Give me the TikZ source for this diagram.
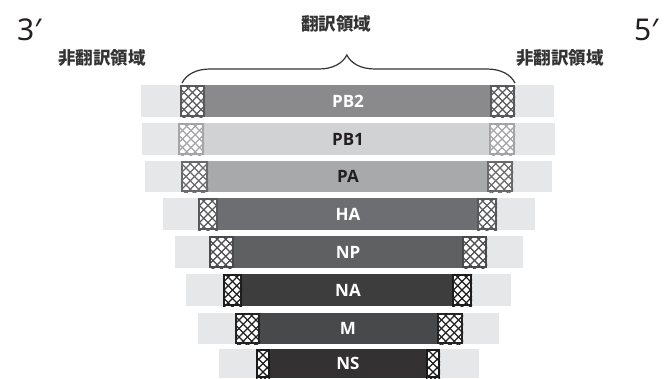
\documentclass[tikz,border=0pt]{standalone}
\usepackage{fontspec}
\setmainfont{Open Sans}
\newfontfamily\jpfont{Noto Sans CJK JP}
\newfontfamily\primefont{Noto Sans}
\usetikzlibrary{decorations.pathreplacing}
\definecolor{bglight}{HTML}{E6E7E8}
\definecolor{txtdark}{HTML}{231F20}
\definecolor{jpgray}{HTML}{333333}
\definecolor{cPBtwo}{HTML}{8A8A8C}\definecolor{hPBtwo}{HTML}{59595B}
\definecolor{cPBone}{HTML}{D1D2D4}\definecolor{hPBone}{HTML}{A5A5A7}
\definecolor{cPA}{HTML}{A7A9AB}\definecolor{hPA}{HTML}{6A6A6C}
\definecolor{cHA}{HTML}{6D6E71}\definecolor{hHA}{HTML}{58595B}
\definecolor{cNP}{HTML}{5F6062}\definecolor{hNP}{HTML}{4A4A4C}
\definecolor{cNA}{HTML}{3D3D3E}\definecolor{hNA}{HTML}{1D1D1D}
\definecolor{cM}{HTML}{48494B}\definecolor{hM}{HTML}{232323}
\definecolor{cNS}{HTML}{333132}\definecolor{hNS}{HTML}{1A1A1A}
\tikzset{
  barlabel/.style={anchor=base, inner sep=0pt, font=\fontsize{17}{18}\selectfont\bfseries},
  jplabel/.style={inner sep=0pt, text=jpgray, font=\fontsize{17.5}{19}\selectfont\jpfont\bfseries},
  endlabel/.style={anchor=base west, inner sep=0pt, text=txtdark, font=\fontsize{30}{32}\selectfont\primefont},
}
% hatch box: x1 y1 x2 y2 colour
\newcommand{\hatchbox}[5]{%
  \begin{scope}
    \clip (#1,#2) rectangle (#3,#4);
    \fill[white] (#1,#2) rectangle (#3,#4);
    \pgfmathsetmacro{\hcx}{(#1+#3)/2}
    \pgfmathsetmacro{\hcy}{(#2+#4)/2}
    \foreach \n in {-6,...,6}{
      \draw[#5, line width=1.3pt] (\hcx+8.5*\n-30,\hcy-30) -- (\hcx+8.5*\n+30,\hcy+30);
      \draw[#5, line width=1.3pt] (\hcx+8.5*\n+30,\hcy-30) -- (\hcx+8.5*\n-30,\hcy+30);
    }
  \end{scope}
  \draw[#5, line width=1.6pt] (#1+0.8,#2+0.8) rectangle (#3-0.8,#4-0.8);
}
\begin{document}
\begin{tikzpicture}[x=1pt,y=-1pt]
\useasboundingbox (0,0) rectangle (666,378);
\foreach \ya/\yb/\bl/\br/\ha/\hb/\hc/\hd/\bc/\hcol/\lab/\tc [count=\i] in {
  85/117/141/554/180/205/490/515/cPBtwo/hPBtwo/PB2/white,
  123/155/142/555/178/204/489/515/cPBone/hPBone/PB1/txtdark,
  161/192/145/552/181/208/487/513/cPA/hPA/PA/txtdark,
  198/230/163/535/198/218/477/497/cHA/hHA/HA/white,
  236/268/175/523/209/234/462/487/cNP/hNP/NP/white,
  274/306/186/511/223/242/452/472/cNA/hNA/NA/white,
  313/344/198/499/235/260/437/463/cM/hM/M/white,
  349/378/219/479/256/270/426/440/cNS/hNS/NS/white}{
  \fill[bglight] (\bl,\ya) rectangle (\br,\yb);
  \fill[\bc] (\hb,\ya) rectangle (\hc,\yb);
  \hatchbox{\ha}{\ya}{\hb}{\yb}{\hcol}
  \hatchbox{\hc}{\ya}{\hd}{\yb}{\hcol}
  \pgfmathsetmacro{\ybase}{(\ya+\yb)/2+6}
  \node[barlabel, text=\tc] (seg\i) at (348,\ybase) {\lab};
}
\node[endlabel] (three) at (17,40) {3′};
\node[endlabel] (five) at (634,40) {5′};
\node[jplabel] (trans) at (336,24) {翻訳領域};
\node[jplabel] (utrL) at (102,57.5) {非翻訳領域};
\node[jplabel] (utrR) at (560,57.5) {非翻訳領域};
\coordinate (braceL) at (182,83);
\coordinate (braceR) at (515,83);
\draw[jpgray, line width=1.2pt, decorate, decoration={brace, amplitude=28pt, aspect=0.495}] (braceL) -- (braceR);
\end{tikzpicture}
\end{document}
